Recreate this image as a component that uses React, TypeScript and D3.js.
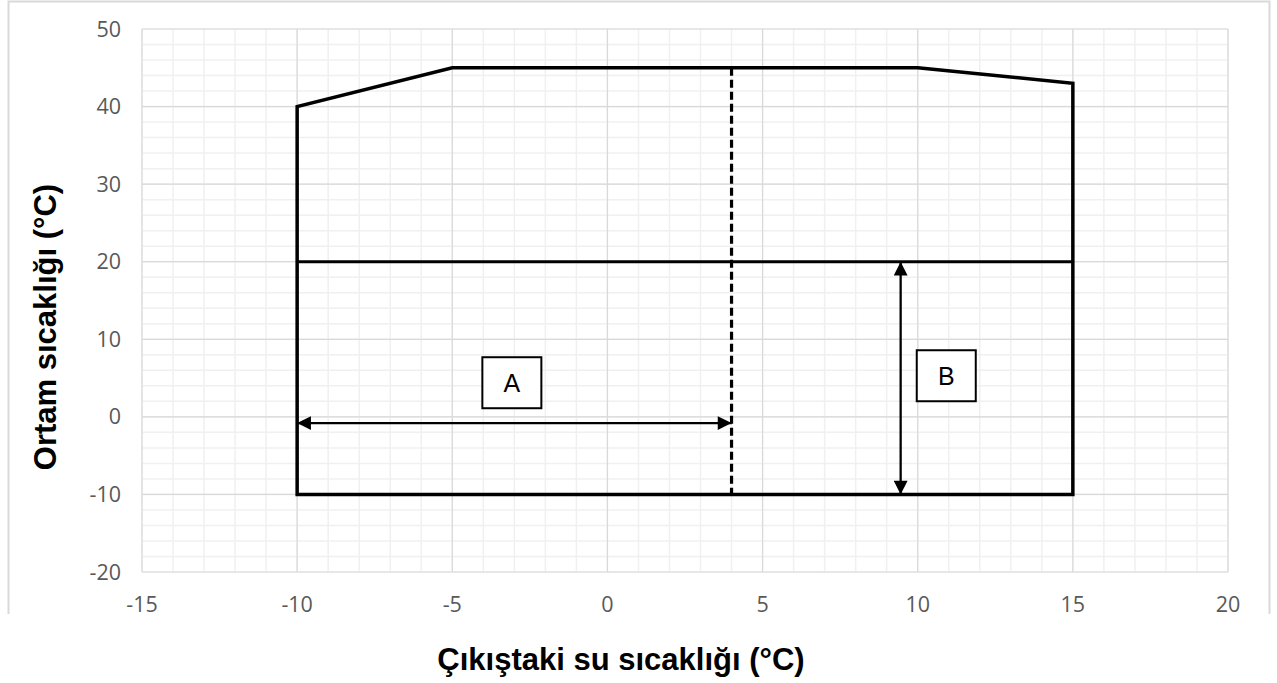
import React from "react";
import * as d3 from "d3";

const xTicks = [-15, -10, -5, 0, 5, 10, 15, 20];
const yTicks = [-20, -10, 0, 10, 20, 30, 40, 50];
const envelopeX = [-10, -10, -5, 10, 15, 15];
const envelopeY = [-10, 40, 45, 45, 43, -10];
const midLineX = [-10, 15];
const midLineY = [20, 20];
const dashedX = [4, 4];
const dashedY = [45, -10];
const arrowAX = [-10, 4];
const arrowAY = [-0.8, -0.8];
const arrowBX = [9.45, 9.45];
const arrowBY = [20, -10];
const labelNames = ["A", "B"];
const labelX = [-3.08, 10.92];
const labelY = [4.4, 5.3];

const W = 1277;
const H = 683;
const L = 142, R = 1228, T = 29, B = 572;

export default function App() {
  const x = d3.scaleLinear().domain([-15, 20]).range([L, R]);
  const y = d3.scaleLinear().domain([-20, 50]).range([B, T]);
  const minorX = d3.range(-15, 20.001, 1);
  const minorY = d3.range(-20, 50.001, 2);
  const line = d3.line<[number, number]>().x(d => x(d[0])).y(d => y(d[1]));
  const env: [number, number][] = envelopeX.map((v, i) => [v, envelopeY[i]]);
  const font = "'Open Sans', 'Liberation Sans', sans-serif";
  const bold = "'Liberation Sans', Arial, sans-serif";
  return (
    <svg width={W} height={H} style={{ position: "absolute", left: 0, top: 0, background: "#fff" }}>
      <defs>
        <marker id="ah" viewBox="0 0 10 10" refX="10" refY="5" markerWidth="6.5" markerHeight="6" markerUnits="strokeWidth" orient="auto-start-reverse">
          <path d="M0,0 L10,5 L0,10 z" fill="#000" />
        </marker>
      </defs>
      {/* frame */}
      <path d={`M8.5,614 L8.5,1.5 L1269.5,1.5 L1269.5,614`} fill="none" stroke="#d9d9d9" strokeWidth={2} />
      {/* minor grid */}
      {minorX.map(v => (
        <line key={"mx" + v} x1={x(v)} x2={x(v)} y1={T} y2={B} stroke="#f0f0f0" strokeWidth={1.5} />
      ))}
      {minorY.map(v => (
        <line key={"my" + v} x1={L} x2={R} y1={y(v)} y2={y(v)} stroke="#f0f0f0" strokeWidth={1.5} />
      ))}
      {/* major grid */}
      {xTicks.map(v => (
        <line key={"gx" + v} x1={x(v)} x2={x(v)} y1={T} y2={B} stroke="#d9d9d9" strokeWidth={1.2} />
      ))}
      {yTicks.map(v => (
        <line key={"gy" + v} x1={L} x2={R} y1={y(v)} y2={y(v)} stroke="#d9d9d9" strokeWidth={1.2} />
      ))}
      {/* tick labels */}
      {xTicks.map(v => (
        <text key={"tx" + v} x={x(v)} y={612} textAnchor="middle" fontFamily={font} fontSize={21.5} fill="#595959">{v}</text>
      ))}
      {yTicks.map(v => (
        <text key={"ty" + v} x={121} y={y(v) + 7.5} textAnchor="end" fontFamily={font} fontSize={21.5} fill="#595959">{v}</text>
      ))}
      {/* envelope */}
      <path d={line(env) + "Z"} fill="none" stroke="#000" strokeWidth={3.5} strokeLinejoin="miter" />
      <path d={line(midLineX.map((v, i) => [v, midLineY[i]]) as [number, number][]) || ""} fill="none" stroke="#000" strokeWidth={3} />
      <path d={line(dashedX.map((v, i) => [v, dashedY[i]]) as [number, number][]) || ""} fill="none" stroke="#000" strokeWidth={3.2} strokeDasharray="8 4" />
      {/* arrows */}
      <path d={line(arrowAX.map((v, i) => [v, arrowAY[i]]) as [number, number][]) || ""} fill="none" stroke="#000" strokeWidth={2.3} markerStart="url(#ah)" markerEnd="url(#ah)" />
      <path d={line(arrowBX.map((v, i) => [v, arrowBY[i]]) as [number, number][]) || ""} fill="none" stroke="#000" strokeWidth={2.3} markerStart="url(#ah)" markerEnd="url(#ah)" />
      {/* labels */}
      {labelNames.map((n, i) => (
        <g key={n}>
          <rect x={x(labelX[i]) - 29.5} y={y(labelY[i]) - 25.5} width={59} height={51} fill="#fff" stroke="#000" strokeWidth={2} />
          <text x={x(labelX[i])} y={y(labelY[i]) + 9} textAnchor="middle" fontFamily={bold} fontSize={25} fill="#000">{n}</text>
        </g>
      ))}
      {/* axis titles */}
      <text x={621} y={670} textAnchor="middle" fontFamily={bold} fontWeight="bold" fontSize={31} fill="#000">Çıkıştaki su sıcaklığı (°C)</text>
      <text transform={`translate(56,327) rotate(-90)`} textAnchor="middle" fontFamily={bold} fontWeight="bold" fontSize={31} fill="#000">Ortam sıcaklığı (°C)</text>
    </svg>
  );
}
